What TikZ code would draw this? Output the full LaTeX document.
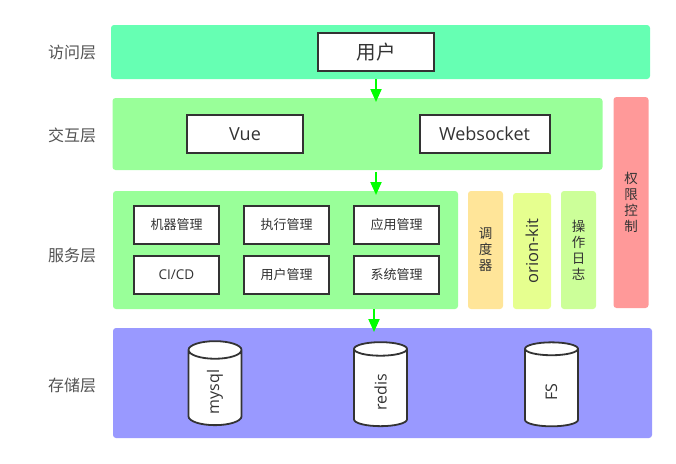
\documentclass[tikz,border=0pt]{standalone}
\usepackage{fontspec}
\setmainfont{Open Sans}
\newfontfamily\cjk{Noto Sans CJK SC}
\usepackage{xcolor}
\usetikzlibrary{positioning,arrows.meta,shapes.geometric,calc}
\definecolor{accessgreen}{HTML}{66FFB3}
\definecolor{midgreen}{HTML}{99FF99}
\definecolor{storeblue}{HTML}{9999FF}
\definecolor{permred}{HTML}{FF9999}
\definecolor{schedyellow}{HTML}{FFE599}
\definecolor{kitlime}{HTML}{E6FF8F}
\definecolor{logleaf}{HTML}{CCFF99}
\definecolor{inkgrey}{HTML}{333333}
\definecolor{flowgreen}{HTML}{00FF00}
\tikzset{
  band/.style={rectangle, rounded corners=3pt, fill=#1, outer sep=0pt, inner sep=0pt,
               align=center, text=inkgrey, font=\cjk\fontsize{13.5}{16}\selectfont},
  blk/.style={rectangle, draw=inkgrey, fill=white, line width=2pt, outer sep=0pt,
              inner sep=0pt, minimum height=38pt, text=inkgrey, align=center},
  tiny/.style={blk, minimum width=85pt, font=\cjk\fontsize{13}{15}\selectfont},
  wide/.style={blk, font=\fontsize{18}{21}\selectfont},
  db/.style={cylinder, rotate=90, aspect=1.1, draw=inkgrey, fill=white, line width=1.8pt,
             minimum width=53pt, minimum height=84pt, outer sep=0pt, inner sep=0pt,
             text=inkgrey, font=\fontsize{16}{19}\selectfont,
             execute at end node={\hspace*{8pt}}},
  ar/.style={-{Triangle[length=13pt,width=11pt]}, line width=2pt, draw=flowgreen, shorten >=-4pt},
  lbl/.style={font=\cjk\fontsize{16}{19}\selectfont, text=inkgrey!85},
}
\begin{document}
\begin{tikzpicture}[x=1pt,y=-1pt]
  \useasboundingbox (0,0) rectangle (676,463);

  % layer names
  \node[lbl] (lblaccess) at (72,53) {访问层};
  \node[lbl] (lblinteract) at (72,135) {交互层};
  \node[lbl] (lblservice) at (72,255) {服务层};
  \node[lbl] (lblstorage) at (72,385) {存储层};

  % layers
  \node[band=accessgreen, minimum width=539pt, minimum height=54pt] (access) at (380.5,52) {};
  \node[band=midgreen, minimum width=490pt, minimum height=72pt] (interact) at (357.5,134) {};
  \node[band=midgreen, minimum width=345pt, minimum height=118pt] (service) at (285.5,250) {};
  \node[band=storeblue, minimum width=539pt, minimum height=110pt] (storage) at (382.5,383) {};

  % side columns
  \node[band=schedyellow, minimum width=35pt, minimum height=118pt] (sched) at (485.5,250) {调\\度\\器};
  \node[band=kitlime, minimum width=116pt, minimum height=38pt, rotate=90, font=\fontsize{16.5}{19}\selectfont] (kit) at (532,251) {orion-kit};
  \node[band=logleaf, minimum width=35pt, minimum height=118pt] (oplog) at (578.5,250) {操\\作\\日\\志};
  \node[band=permred, minimum width=35pt, minimum height=211pt] (perm) at (631,202.5) {权\\限\\控\\制};

  % access and interaction boxes
  \node[wide, minimum width=116pt, font=\cjk\fontsize{19.5}{23}\selectfont] (user) at (376,52) {用户};
  \node[wide, minimum width=116pt] (vue) at (245,134) {Vue};
  \node[wide, minimum width=130pt] (websocket) at (484.5,134) {Websocket};

  % service boxes
  \node[tiny] (machine) at (176.5,225) {机器管理};
  \node[tiny] (exec) at (286.5,225) {执行管理};
  \node[tiny] (app) at (396.5,225) {应用管理};
  \node[tiny, font=\fontsize{13.5}{15}\selectfont] (cicd) at (176.5,275) {CI/CD};
  \node[tiny] (usermgr) at (286.5,275) {用户管理};
  \node[tiny] (sysmgr) at (396.5,275) {系统管理};

  % stores
  \node[db] (mysql) at (215,388) {mysql};
  \node[db] (redis) at (380.5,388) {redis};
  \node[db] (fs) at (551.5,388) {FS};

  % flow
  \draw[ar] (access.south -| user.south) -- (interact.north -| user.south);
  \draw[ar] ([yshift=-2pt]interact.south -| user.south) -- (service.north -| user.south);
  \draw[ar] ([xshift=-2pt]service.south -| user.south) -- ([xshift=-2pt]storage.north -| user.south);
\end{tikzpicture}
\end{document}
